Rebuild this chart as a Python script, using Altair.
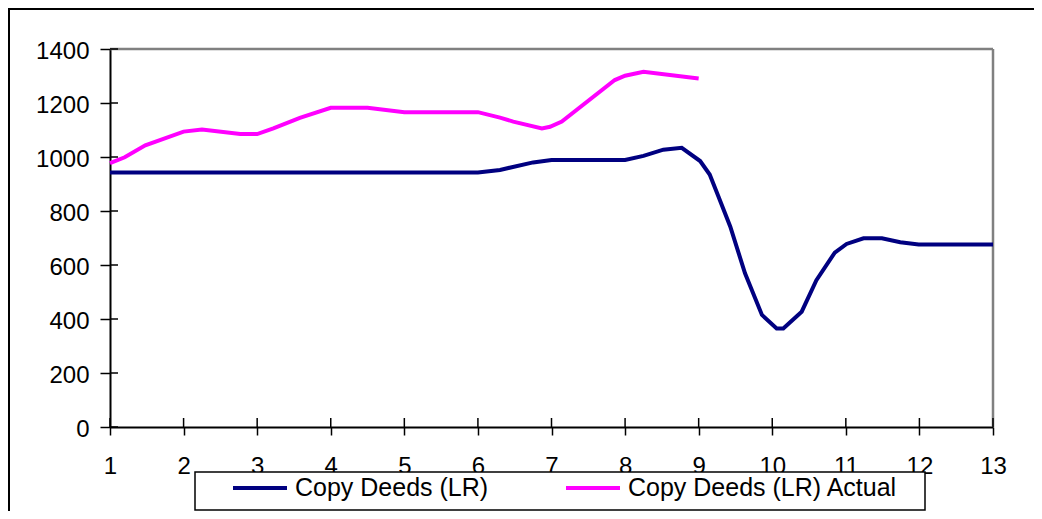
import altair as alt
import pandas as pd

# Series 1: Copy Deeds (LR)
lr_x = [1, 2, 3, 4, 5, 6, 6.3, 6.75, 7.0, 8.0, 8.25, 8.52, 8.77, 9.02, 9.15, 9.27, 9.43,
        9.63, 9.86, 10.06, 10.15, 10.4, 10.6, 10.85, 11.01, 11.24, 11.49, 11.74, 11.99, 13]
lr_y = [943, 943, 943, 943, 943, 943, 952, 980, 989, 989, 1004, 1027, 1034, 985, 935, 853, 742,
        569, 415, 365, 365, 427, 544, 646, 678, 699, 699, 684, 676, 676]

# Series 2: Copy Deeds (LR) Actual
act_x = [1, 1.2, 1.48, 2.0, 2.25, 2.77, 3.0, 3.22, 3.58, 4.0, 4.5, 5.0, 6.0, 6.3, 6.48,
         6.87, 6.98, 7.14, 7.86, 8.0, 8.25, 9.0]
act_y = [977, 999, 1043, 1094, 1102, 1085, 1085, 1106, 1145, 1182, 1182, 1166, 1166, 1146, 1131,
         1106, 1112, 1131, 1285, 1301, 1316, 1291]

series_names = ["Copy Deeds (LR)", "Copy Deeds (LR) Actual"]
series_colors = ["#000080", "#FF00FF"]

x_ticks = list(range(1, 14))
y_ticks = list(range(0, 1401, 200))

W, H = 883, 378

df = pd.concat([
    pd.DataFrame({"x": lr_x, "y": lr_y, "series": series_names[0], "order": range(len(lr_x))}),
    pd.DataFrame({"x": act_x, "y": act_y, "series": series_names[1], "order": range(len(act_x))}),
])

xscale = alt.Scale(domain=[1, 13], nice=False, zero=False)
yscale = alt.Scale(domain=[0, 1400], nice=False)

x_axis = alt.Axis(
    values=x_ticks, title=None, grid=False, tickSize=8, tickWidth=1.5,
    domainColor="black", domainWidth=2, tickColor="black",
    labelFontSize=24, labelColor="black", labelPadding=19, labelFlush=False,
    format="d")
y_axis = alt.Axis(
    values=y_ticks, title=None, grid=False, tickSize=10, tickWidth=1.5,
    domainColor="black", domainWidth=2, tickColor="black",
    labelFontSize=24, labelColor="black", labelPadding=11, labelOffset=2,
    format="d")

one = pd.DataFrame({"a": [0]})

outer = alt.Chart(one).mark_rect(
    fill=None, stroke="black", strokeWidth=2
).encode(x=alt.value(-101), x2=alt.value(1200), y=alt.value(-40), y2=alt.value(700))

top_rule = alt.Chart(one).mark_rule(
    color="#808080", strokeWidth=2.5
).encode(x=alt.value(0), x2=alt.value(W), y=alt.value(0))
right_rule = alt.Chart(one).mark_rule(
    color="#808080", strokeWidth=2.5
).encode(x=alt.value(W), y=alt.value(0), y2=alt.value(H))

lines = alt.Chart(df).mark_line(strokeWidth=4).encode(
    x=alt.X("x:Q", scale=xscale, axis=x_axis),
    y=alt.Y("y:Q", scale=yscale, axis=y_axis),
    color=alt.Color("series:N", scale=alt.Scale(domain=series_names, range=series_colors),
                    legend=alt.Legend(orient="none", legendX=121, legendY=410,
                                      direction="horizontal", title=None,
                                      symbolType="stroke", symbolSize=2916,
                                      symbolStrokeWidth=4, labelFontSize=25,
                                      labelColor="black", labelOffset=6,
                                      columnPadding=69, padding=0, labelLimit=0)),
    order="order:Q",
)

# inward halves of the crossing tick marks
ytick_in = alt.Chart(pd.DataFrame({"v": y_ticks})).mark_rule(color="black", strokeWidth=1.5).encode(
    y=alt.Y("v:Q", scale=yscale, axis=y_axis), x=alt.value(0), x2=alt.value(8))
xtick_in = alt.Chart(pd.DataFrame({"v": x_ticks})).mark_rule(color="black", strokeWidth=1.5).encode(
    x=alt.X("v:Q", scale=xscale, axis=x_axis), y=alt.value(H - 9), y2=alt.value(H))

legend_box = alt.Chart(one).mark_rect(
    fill="white", stroke="black", strokeWidth=1.5
).encode(x=alt.value(85), x2=alt.value(815), y=alt.value(423), y2=alt.value(461))

chart = alt.layer(outer, top_rule, right_rule, lines, ytick_in, xtick_in, legend_box).properties(
    width=W, height=H,
    autosize=alt.AutoSizeParams(type="none"),
    padding={"left": 102, "top": 41, "right": 41, "bottom": 84},
).configure_view(stroke=None).configure(font="Liberation Sans")

chart.save("out.html", embed_options={"renderer": "svg", "actions": False})
